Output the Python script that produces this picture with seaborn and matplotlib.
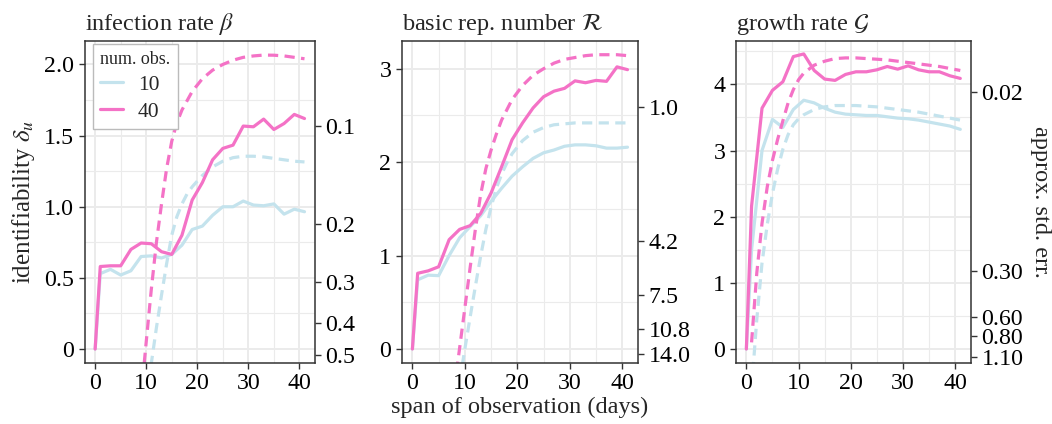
import numpy as np
import pandas as pd
import matplotlib
matplotlib.use("Agg")
import matplotlib.pyplot as plt
import seaborn as sns
from matplotlib.lines import Line2D
from matplotlib.ticker import MultipleLocator

# ---------------- data ----------------
span_obs = [0, 1, 3, 5, 7, 9, 11, 13, 15, 17, 19, 21, 23, 25, 27, 29, 31, 33, 35, 37, 39, 41]

# infection rate beta
beta_obs_10 = [0, 0.53, 0.56, 0.52, 0.55, 0.65, 0.655, 0.64, 0.665, 0.73, 0.84, 0.864, 0.94, 1.0,
               1.0, 1.04, 1.012, 1.007, 1.02, 0.948, 0.983, 0.965]
beta_obs_40 = [0, 0.58, 0.585, 0.585, 0.70, 0.745, 0.74, 0.684, 0.665, 0.80, 1.047, 1.17, 1.33, 1.41,
               1.433, 1.567, 1.562, 1.616, 1.543, 1.585, 1.649, 1.62]
beta_exp_10_x = [10, 11, 12, 13, 14, 15, 16, 17, 18, 19, 21, 23, 25, 27, 29, 31, 33, 35, 37, 39, 41]
beta_exp_10 = [-0.35, -0.1, 0.15, 0.38, 0.6, 0.8, 0.93, 1.02, 1.09, 1.14, 1.22, 1.28, 1.32, 1.345,
               1.355, 1.355, 1.35, 1.34, 1.33, 1.32, 1.315]
beta_exp_40_x = [9, 10, 11, 12, 13, 14, 15, 16, 17, 19, 21, 23, 25, 27, 29, 31, 33, 35, 37, 39, 41]
beta_exp_40 = [-0.33, 0.05, 0.42, 0.75, 1.02, 1.27, 1.46, 1.59, 1.68, 1.81, 1.90, 1.96, 2.00, 2.03,
               2.05, 2.06, 2.066, 2.065, 2.06, 2.05, 2.04]

# basic reproduction number R
rep_obs_10 = [0, 0.74, 0.79, 0.785, 1.0, 1.19, 1.31, 1.425, 1.58, 1.72, 1.85, 1.95, 2.04, 2.10,
              2.13, 2.17, 2.185, 2.185, 2.175, 2.15, 2.15, 2.16]
rep_obs_40 = [0, 0.81, 0.836, 0.88, 1.17, 1.28, 1.32, 1.45, 1.67, 1.95, 2.24, 2.42, 2.58, 2.70,
              2.76, 2.79, 2.87, 2.85, 2.875, 2.865, 3.02, 2.99]
rep_exp_10_x = [9, 10, 11, 12, 13, 14, 15, 16, 17, 18, 19, 21, 23, 25, 27, 29, 31, 33, 35, 37, 39, 41]
rep_exp_10 = [-0.35, 0.0, 0.34, 0.67, 0.99, 1.28, 1.52, 1.72, 1.87, 1.99, 2.09, 2.23, 2.32, 2.37,
              2.40, 2.41, 2.42, 2.42, 2.42, 2.42, 2.42, 2.42]
rep_exp_40_x = [8, 9, 10, 11, 12, 13, 14, 15, 16, 17, 19, 21, 23, 25, 27, 29, 31, 33, 35, 37, 39, 41]
rep_exp_40 = [-0.42, 0.01, 0.44, 0.87, 1.28, 1.65, 1.93, 2.13, 2.30, 2.45, 2.67, 2.82, 2.93, 3.00,
              3.06, 3.10, 3.12, 3.14, 3.15, 3.15, 3.15, 3.14]

# growth rate G
gro_obs_10 = [0, 1.5, 3.0, 3.47, 3.35, 3.62, 3.76, 3.72, 3.64, 3.58, 3.55, 3.54, 3.53, 3.53,
              3.51, 3.49, 3.48, 3.46, 3.43, 3.40, 3.37, 3.32]
gro_obs_40 = [0, 2.16, 3.64, 3.91, 4.04, 4.42, 4.46, 4.21, 4.08, 4.06, 4.15, 4.19, 4.19, 4.22,
              4.27, 4.23, 4.28, 4.22, 4.19, 4.19, 4.13, 4.09]
gro_exp_10_x = [1, 2, 3, 4, 5, 6, 7, 8, 9, 10, 11, 13, 15, 17, 19, 21, 23, 25, 27, 29, 31, 33, 35, 37, 39, 41]
gro_exp_10 = [-0.6, 0.45, 1.3, 1.88, 2.35, 2.72, 3.02, 3.24, 3.39, 3.48, 3.54, 3.62, 3.66, 3.68,
              3.68, 3.68, 3.67, 3.66, 3.64, 3.62, 3.60, 3.58, 3.55, 3.52, 3.49, 3.46]
gro_exp_40_x = [1, 2, 3, 4, 5, 6, 7, 8, 9, 10, 11, 13, 15, 17, 19, 21, 23, 25, 27, 29, 31, 33, 35, 37, 39, 41]
gro_exp_40 = [0.1, 1.15, 1.9, 2.45, 2.85, 3.17, 3.45, 3.72, 3.92, 4.07, 4.17, 4.29, 4.35, 4.39,
              4.40, 4.40, 4.39, 4.38, 4.37, 4.35, 4.33, 4.31, 4.29, 4.27, 4.24, 4.21]

titles = ["infection rate $\\beta$", "basic rep. number $\\mathcal{R}$", "growth rate $\\mathcal{G}$"]
num_obs = ["10", "40"]

left_ticks = [[0, 0.5, 1.0, 1.5, 2.0], [0, 1, 2, 3], [0, 1, 2, 3, 4]]
left_labels = [["0", "0.5", "1.0", "1.5", "2.0"], ["0", "1", "2", "3"], ["0", "1", "2", "3", "4"]]
x_ticks = [0, 10, 20, 30, 40]

# approx. std. err. (right axis): delta = ln(sigma0 / se)
prior_se = [0.48, 13.33, 0.98]
se_ticks = [[0.1, 0.2, 0.3, 0.4, 0.5], [1.0, 4.2, 7.5, 10.8, 14.0], [0.02, 0.30, 0.60, 0.80, 1.10]]
se_labels = [["0.1", "0.2", "0.3", "0.4", "0.5"], ["1.0", "4.2", "7.5", "10.8", "14.0"],
             ["0.02", "0.30", "0.60", "0.80", "1.10"]]

panels = [
    (span_obs, beta_obs_10, beta_obs_40, beta_exp_10_x, beta_exp_10, beta_exp_40_x, beta_exp_40),
    (span_obs, rep_obs_10, rep_obs_40, rep_exp_10_x, rep_exp_10, rep_exp_40_x, rep_exp_40),
    (span_obs, gro_obs_10, gro_obs_40, gro_exp_10_x, gro_exp_10, gro_exp_40_x, gro_exp_40),
]

# ---------------- style ----------------
sns.set_style("whitegrid")
plt.rcParams['font.family'] = ['Liberation Serif', 'DejaVu Serif']
plt.rcParams['mathtext.fontset'] = 'stix'

BLUE = "#c4e3ed"
PINK = "#f472c6"
palette = {"10": BLUE, "40": PINK}
GRID = "#ebebeb"
FRAME = "#333333"
FS = 17.2
LFS = 17.5

fig = plt.figure(figsize=(10.52, 4.24), dpi=100)
pos = [(0.0805, 0.1446, 0.2189, 0.7594),
       (0.3818, 0.1446, 0.2249, 0.7594),
       (0.6993, 0.1446, 0.2237, 0.7594)]
ylims = [(-0.096, 2.167), (-0.147, 3.30), (-0.207, 4.66)]
yminor = [0.25, 0.5, 0.5]

for i, (xo, o10, o40, xe10, e10, xe40, e40) in enumerate(panels):
    ax = fig.add_axes(pos[i])
    frames = [
        pd.DataFrame({"span": xo, "delta": o10, "nobs": "10", "kind": "observed"}),
        pd.DataFrame({"span": xo, "delta": o40, "nobs": "40", "kind": "observed"}),
        pd.DataFrame({"span": xe10, "delta": e10, "nobs": "10", "kind": "expected"}),
        pd.DataFrame({"span": xe40, "delta": e40, "nobs": "40", "kind": "expected"}),
    ]
    df = pd.concat(frames, ignore_index=True)
    sns.lineplot(data=df, x="span", y="delta", hue="nobs", style="kind",
                 hue_order=["10", "40"], style_order=["observed", "expected"],
                 palette=palette, dashes={"observed": "", "expected": (3.2, 2.0)},
                 linewidth=2.3, legend=False, estimator=None, sort=False, ax=ax)
    ax.set_xlim(-2.05, 43.05)
    ax.set_ylim(*ylims[i])
    ax.set_xticks(x_ticks)
    ax.set_xticklabels([str(t) for t in x_ticks])
    ax.set_yticks(left_ticks[i])
    ax.set_yticklabels(left_labels[i])
    ax.xaxis.set_minor_locator(MultipleLocator(5))
    ax.yaxis.set_minor_locator(MultipleLocator(yminor[i]))
    ax.grid(which="major", color=GRID, lw=1.4)
    ax.grid(which="minor", color=GRID, lw=0.8)
    ax.set_axisbelow(True)
    for s in ax.spines.values():
        s.set_color(FRAME)
        s.set_linewidth(1.1)
    ax.tick_params(which="major", direction="out", length=4.5, width=1.0, color=FRAME,
                   labelsize=FS, labelcolor="black", left=True, bottom=True, pad=3)
    ax.tick_params(which="minor", length=0)
    ax.set_title(titles[i], loc="left", fontsize=17.5, pad=8)
    ax.set_xlabel("span of observation (days)" if i == 1 else "", fontsize=LFS, labelpad=2)
    ax.set_ylabel("identifiability $\\delta_u$" if i == 0 else "", fontsize=LFS + 0.5, labelpad=5)

    tw = ax.twinx()
    tw.set_ylim(*ylims[i])
    tw.grid(False)
    tw.set_yticks(np.log(prior_se[i] / np.array(se_ticks[i])))
    tw.set_yticklabels(se_labels[i])
    for s in tw.spines.values():
        s.set_visible(False)
    tw.tick_params(axis="y", direction="out", length=4.5, width=1.0, color=FRAME,
                   labelsize=FS, labelcolor="black", right=True, pad=3)
    if i == 2:
        tw.set_ylabel("approx. std. err.", rotation=270, fontsize=LFS, labelpad=20)

    if i == 0:
        handles = [Line2D([], [], color=palette[k], lw=2.3) for k in num_obs]
        leg = ax.legend(handles, num_obs, title="num. obs.", loc="upper left",
                        bbox_to_anchor=(0.035, 0.99), borderaxespad=0.0,
                        fontsize=15.5, title_fontsize=13,
                        frameon=True, fancybox=False, framealpha=1, edgecolor="#bbbbbb",
                        handlelength=1.05, handletextpad=0.7, labelspacing=0.3,
                        borderpad=0.35)
        leg._legend_box.align = "left"
        leg.get_frame().set_linewidth(1.0)

fig.savefig("out.png", dpi=100)
